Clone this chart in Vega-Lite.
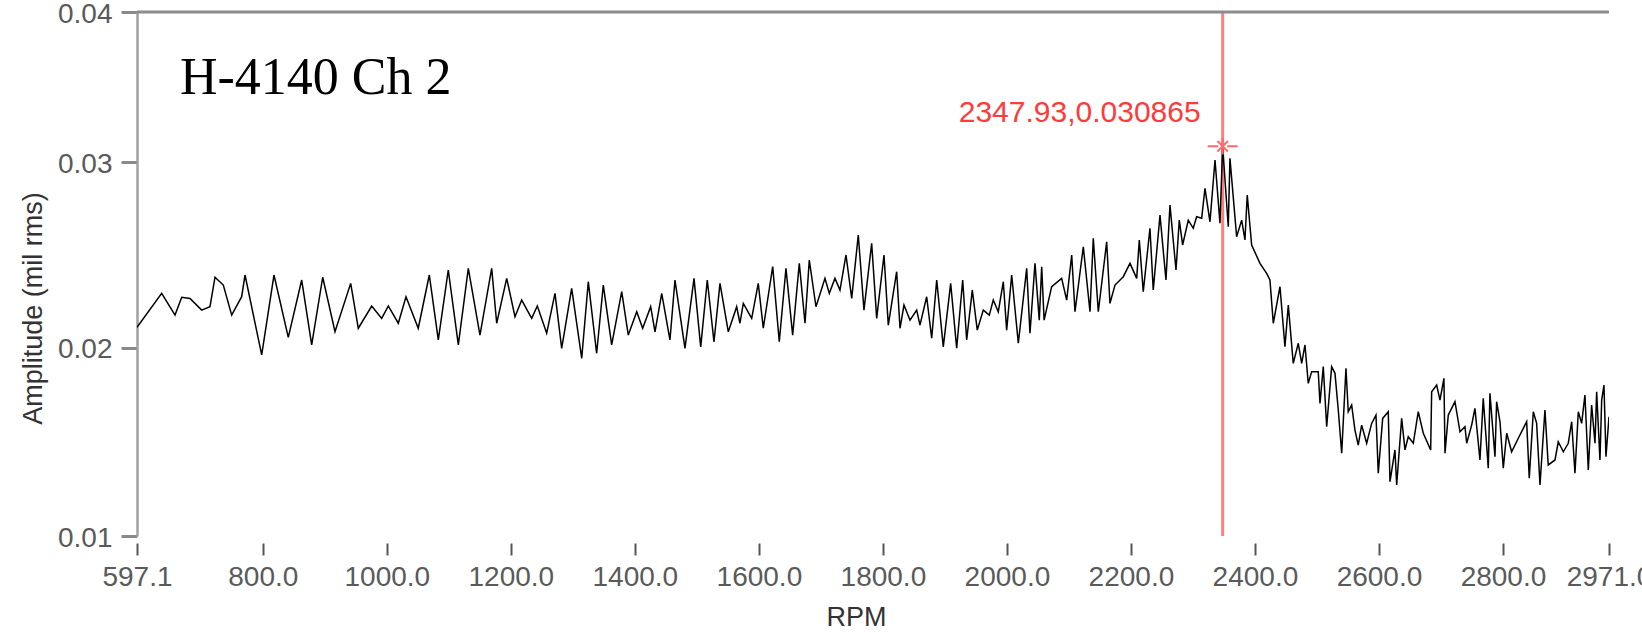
{
  "$schema": "https://vega.github.io/schema/vega-lite/v6.json",
  "width": 1472,
  "height": 524,
  "autosize": {"type": "none"},
  "padding": {"left": 137, "top": 12, "right": 33, "bottom": 99},
  "background": "white",
  "config": {"view": {"stroke": null}, "font": "Liberation Sans"},
  "datasets": {
    "sweep": [
      {"rpm": 597.1, "amp": 0.0211}, {"rpm": 636.9, "amp": 0.02293}, {"rpm": 658.4, "amp": 0.02176}, {"rpm": 669.2, "amp": 0.02272},
      {"rpm": 682.6, "amp": 0.02266}, {"rpm": 701.4, "amp": 0.02203}, {"rpm": 714.8, "amp": 0.02221}, {"rpm": 722.9, "amp": 0.0238},
      {"rpm": 736.3, "amp": 0.02338}, {"rpm": 749.8, "amp": 0.02176}, {"rpm": 765.9, "amp": 0.02275}, {"rpm": 771.3, "amp": 0.02392},
      {"rpm": 798.2, "amp": 0.01961}, {"rpm": 818.0, "amp": 0.02392}, {"rpm": 841.1, "amp": 0.02056}, {"rpm": 862.7, "amp": 0.02365},
      {"rpm": 878.8, "amp": 0.02015}, {"rpm": 896.6, "amp": 0.0238}, {"rpm": 916.4, "amp": 0.02086}, {"rpm": 941.7, "amp": 0.02347},
      {"rpm": 954.0, "amp": 0.02105}, {"rpm": 975.6, "amp": 0.02225}, {"rpm": 991.7, "amp": 0.02158}, {"rpm": 1002.4, "amp": 0.02225},
      {"rpm": 1018.5, "amp": 0.02132}, {"rpm": 1030.9, "amp": 0.02275}, {"rpm": 1050.7, "amp": 0.02105}, {"rpm": 1068.5, "amp": 0.02392},
      {"rpm": 1083.0, "amp": 0.02042}, {"rpm": 1099.1, "amp": 0.02419}, {"rpm": 1115.3, "amp": 0.02015}, {"rpm": 1131.4, "amp": 0.02428},
      {"rpm": 1150.2, "amp": 0.02068}, {"rpm": 1169.1, "amp": 0.02428}, {"rpm": 1177.2, "amp": 0.02132}, {"rpm": 1193.3, "amp": 0.02374},
      {"rpm": 1206.7, "amp": 0.02167}, {"rpm": 1217.5, "amp": 0.02257}, {"rpm": 1233.6, "amp": 0.02158}, {"rpm": 1242.7, "amp": 0.02225},
      {"rpm": 1257.8, "amp": 0.02078}, {"rpm": 1271.2, "amp": 0.02293}, {"rpm": 1282.0, "amp": 0.01997}, {"rpm": 1298.1, "amp": 0.0232},
      {"rpm": 1314.3, "amp": 0.01943}, {"rpm": 1324.9, "amp": 0.02356}, {"rpm": 1338.4, "amp": 0.0197}, {"rpm": 1349.1, "amp": 0.02338},
      {"rpm": 1362.6, "amp": 0.02015}, {"rpm": 1378.8, "amp": 0.02302}, {"rpm": 1389.4, "amp": 0.02068}, {"rpm": 1403.0, "amp": 0.02194},
      {"rpm": 1412.6, "amp": 0.02105}, {"rpm": 1425.5, "amp": 0.02221}, {"rpm": 1432.5, "amp": 0.02086}, {"rpm": 1443.3, "amp": 0.02293},
      {"rpm": 1456.6, "amp": 0.02042}, {"rpm": 1464.7, "amp": 0.02365}, {"rpm": 1480.8, "amp": 0.01997}, {"rpm": 1495.4, "amp": 0.02374},
      {"rpm": 1506.2, "amp": 0.02005}, {"rpm": 1516.8, "amp": 0.02365}, {"rpm": 1527.6, "amp": 0.02032}, {"rpm": 1537.3, "amp": 0.02347},
      {"rpm": 1550.7, "amp": 0.02086}, {"rpm": 1564.2, "amp": 0.02221}, {"rpm": 1569.5, "amp": 0.02132}, {"rpm": 1574.9, "amp": 0.02239},
      {"rpm": 1588.4, "amp": 0.02158}, {"rpm": 1599.0, "amp": 0.02347}, {"rpm": 1607.1, "amp": 0.02105}, {"rpm": 1622.3, "amp": 0.02437},
      {"rpm": 1632.9, "amp": 0.02032}, {"rpm": 1643.7, "amp": 0.02428}, {"rpm": 1654.5, "amp": 0.02068}, {"rpm": 1665.2, "amp": 0.02455},
      {"rpm": 1674.4, "amp": 0.02132}, {"rpm": 1681.3, "amp": 0.02473}, {"rpm": 1692.1, "amp": 0.02221}, {"rpm": 1706.6, "amp": 0.02374},
      {"rpm": 1713.6, "amp": 0.02293}, {"rpm": 1722.7, "amp": 0.02374}, {"rpm": 1730.8, "amp": 0.02311}, {"rpm": 1740.5, "amp": 0.025},
      {"rpm": 1749.7, "amp": 0.02266}, {"rpm": 1760.3, "amp": 0.02608}, {"rpm": 1769.5, "amp": 0.02203}, {"rpm": 1781.9, "amp": 0.02563},
      {"rpm": 1790.0, "amp": 0.02158}, {"rpm": 1801.8, "amp": 0.025}, {"rpm": 1808.7, "amp": 0.02122}, {"rpm": 1822.2, "amp": 0.0241},
      {"rpm": 1827.6, "amp": 0.02105}, {"rpm": 1834.0, "amp": 0.0223}, {"rpm": 1843.7, "amp": 0.02149}, {"rpm": 1854.5, "amp": 0.02203},
      {"rpm": 1859.8, "amp": 0.02122}, {"rpm": 1870.6, "amp": 0.02275}, {"rpm": 1878.7, "amp": 0.02051}, {"rpm": 1886.8, "amp": 0.02365},
      {"rpm": 1897.4, "amp": 0.02005}, {"rpm": 1909.3, "amp": 0.02347}, {"rpm": 1919.0, "amp": 0.01997}, {"rpm": 1928.7, "amp": 0.02365},
      {"rpm": 1935.1, "amp": 0.02042}, {"rpm": 1944.2, "amp": 0.02311}, {"rpm": 1952.2, "amp": 0.02095}, {"rpm": 1961.9, "amp": 0.02203},
      {"rpm": 1971.6, "amp": 0.02176}, {"rpm": 1978.0, "amp": 0.02257}, {"rpm": 1986.1, "amp": 0.02194}, {"rpm": 1994.2, "amp": 0.02356},
      {"rpm": 1999.6, "amp": 0.02095}, {"rpm": 2007.7, "amp": 0.02392}, {"rpm": 2018.4, "amp": 0.02024}, {"rpm": 2031.9, "amp": 0.02428},
      {"rpm": 2037.2, "amp": 0.02078}, {"rpm": 2045.3, "amp": 0.02455}, {"rpm": 2052.2, "amp": 0.02149}, {"rpm": 2056.1, "amp": 0.02437},
      {"rpm": 2060.0, "amp": 0.02149}, {"rpm": 2072.2, "amp": 0.02329}, {"rpm": 2088.3, "amp": 0.02374}, {"rpm": 2096.4, "amp": 0.02257},
      {"rpm": 2104.5, "amp": 0.025}, {"rpm": 2109.8, "amp": 0.02194}, {"rpm": 2123.2, "amp": 0.02544}, {"rpm": 2134.0, "amp": 0.02194},
      {"rpm": 2139.3, "amp": 0.0259}, {"rpm": 2147.4, "amp": 0.02194}, {"rpm": 2160.9, "amp": 0.02571}, {"rpm": 2166.2, "amp": 0.02239},
      {"rpm": 2174.3, "amp": 0.02338}, {"rpm": 2187.7, "amp": 0.02383}, {"rpm": 2198.5, "amp": 0.02455}, {"rpm": 2209.3, "amp": 0.02374},
      {"rpm": 2213.5, "amp": 0.02581}, {"rpm": 2219.9, "amp": 0.02302}, {"rpm": 2230.7, "amp": 0.02644}, {"rpm": 2236.0, "amp": 0.02311},
      {"rpm": 2246.9, "amp": 0.02715}, {"rpm": 2256.5, "amp": 0.02365}, {"rpm": 2263.0, "amp": 0.02769}, {"rpm": 2272.7, "amp": 0.02419},
      {"rpm": 2278.0, "amp": 0.02688}, {"rpm": 2283.4, "amp": 0.02554}, {"rpm": 2292.5, "amp": 0.02688}, {"rpm": 2300.5, "amp": 0.02644},
      {"rpm": 2306.0, "amp": 0.02706}, {"rpm": 2314.1, "amp": 0.02698}, {"rpm": 2319.4, "amp": 0.02859}, {"rpm": 2327.5, "amp": 0.02679},
      {"rpm": 2335.6, "amp": 0.03012}, {"rpm": 2343.6, "amp": 0.02671}, {"rpm": 2347.93, "amp": 0.030865}, {"rpm": 2357.0, "amp": 0.02652},
      {"rpm": 2359.7, "amp": 0.03021}, {"rpm": 2370.5, "amp": 0.02598}, {"rpm": 2378.6, "amp": 0.02688}, {"rpm": 2383.9, "amp": 0.02581},
      {"rpm": 2387.6, "amp": 0.02823}, {"rpm": 2394.7, "amp": 0.02554}, {"rpm": 2408.1, "amp": 0.02455}, {"rpm": 2418.9, "amp": 0.02401},
      {"rpm": 2424.2, "amp": 0.02365}, {"rpm": 2429.6, "amp": 0.02132}, {"rpm": 2440.4, "amp": 0.02329}, {"rpm": 2448.4, "amp": 0.02005},
      {"rpm": 2453.8, "amp": 0.0223}, {"rpm": 2461.8, "amp": 0.01916}, {"rpm": 2469.9, "amp": 0.02024}, {"rpm": 2475.4, "amp": 0.01916},
      {"rpm": 2480.7, "amp": 0.02015}, {"rpm": 2486.0, "amp": 0.01808}, {"rpm": 2491.5, "amp": 0.01871}, {"rpm": 2502.1, "amp": 0.01871},
      {"rpm": 2504.9, "amp": 0.017}, {"rpm": 2510.2, "amp": 0.01898}, {"rpm": 2515.7, "amp": 0.01574}, {"rpm": 2523.7, "amp": 0.01898},
      {"rpm": 2529.1, "amp": 0.01862}, {"rpm": 2534.4, "amp": 0.01664}, {"rpm": 2539.9, "amp": 0.01431}, {"rpm": 2546.8, "amp": 0.01889},
      {"rpm": 2550.5, "amp": 0.01655}, {"rpm": 2556.0, "amp": 0.01691}, {"rpm": 2561.3, "amp": 0.01556}, {"rpm": 2566.6, "amp": 0.01475},
      {"rpm": 2572.1, "amp": 0.01583}, {"rpm": 2580.2, "amp": 0.01485}, {"rpm": 2588.2, "amp": 0.01592}, {"rpm": 2595.2, "amp": 0.01637},
      {"rpm": 2598.9, "amp": 0.01323}, {"rpm": 2606.0, "amp": 0.01619}, {"rpm": 2615.0, "amp": 0.01655}, {"rpm": 2617.8, "amp": 0.01278},
      {"rpm": 2625.8, "amp": 0.01449}, {"rpm": 2628.6, "amp": 0.0126}, {"rpm": 2636.6, "amp": 0.01619}, {"rpm": 2642.0, "amp": 0.01449},
      {"rpm": 2647.3, "amp": 0.0152}, {"rpm": 2655.4, "amp": 0.01485}, {"rpm": 2663.4, "amp": 0.01655}, {"rpm": 2671.5, "amp": 0.01539},
      {"rpm": 2683.4, "amp": 0.01449}, {"rpm": 2685.0, "amp": 0.01763}, {"rpm": 2693.1, "amp": 0.01799}, {"rpm": 2698.4, "amp": 0.01718},
      {"rpm": 2704.8, "amp": 0.01835}, {"rpm": 2706.5, "amp": 0.01431}, {"rpm": 2711.8, "amp": 0.01637}, {"rpm": 2722.6, "amp": 0.01709},
      {"rpm": 2730.7, "amp": 0.01547}, {"rpm": 2738.7, "amp": 0.01574}, {"rpm": 2741.5, "amp": 0.01485}, {"rpm": 2749.5, "amp": 0.01583},
      {"rpm": 2754.8, "amp": 0.01673}, {"rpm": 2762.9, "amp": 0.01395}, {"rpm": 2768.2, "amp": 0.01727}, {"rpm": 2776.3, "amp": 0.0135},
      {"rpm": 2779.0, "amp": 0.01754}, {"rpm": 2787.1, "amp": 0.01412}, {"rpm": 2789.8, "amp": 0.01709}, {"rpm": 2795.2, "amp": 0.01601},
      {"rpm": 2800.5, "amp": 0.0135}, {"rpm": 2806.0, "amp": 0.01539}, {"rpm": 2814.0, "amp": 0.01439}, {"rpm": 2824.7, "amp": 0.01512},
      {"rpm": 2838.2, "amp": 0.01601}, {"rpm": 2842.4, "amp": 0.01296}, {"rpm": 2848.9, "amp": 0.01655}, {"rpm": 2854.3, "amp": 0.01592},
      {"rpm": 2859.7, "amp": 0.0126}, {"rpm": 2867.7, "amp": 0.01664}, {"rpm": 2873.0, "amp": 0.01368}, {"rpm": 2883.9, "amp": 0.01395},
      {"rpm": 2889.2, "amp": 0.01493}, {"rpm": 2897.3, "amp": 0.01439}, {"rpm": 2905.3, "amp": 0.01485}, {"rpm": 2910.8, "amp": 0.01601},
      {"rpm": 2916.1, "amp": 0.01323}, {"rpm": 2921.5, "amp": 0.01655}, {"rpm": 2926.9, "amp": 0.01592}, {"rpm": 2932.2, "amp": 0.01745},
      {"rpm": 2937.6, "amp": 0.01341}, {"rpm": 2943.0, "amp": 0.01691}, {"rpm": 2948.4, "amp": 0.01485}, {"rpm": 2951.1, "amp": 0.01763},
      {"rpm": 2956.4, "amp": 0.01395}, {"rpm": 2959.2, "amp": 0.01718}, {"rpm": 2962.9, "amp": 0.01799}, {"rpm": 2966.1, "amp": 0.01412},
      {"rpm": 2971.0, "amp": 0.01628}
    ],
    "cursor": [
      {"rpm": 2347.93, "amp": 0.030865, "label": "2347.93,0.030865"}
    ],
    "caption": [
      {"rpm": 666.4, "amp": 0.03368, "name": "H-4140 Ch 2"}
    ]
  },
  "layer": [
    {
      "data": {"name": "cursor"},
      "mark": {"type": "rule", "color": "#ff7f7f", "strokeWidth": 3},
      "encoding": {
        "x": {
          "field": "rpm",
          "type": "quantitative",
          "scale": {"domain": [597.1, 2971.0], "nice": false, "zero": false},
          "axis": {
            "title": "RPM",
            "values": [597.1, 800, 1000, 1200, 1400, 1600, 1800, 2000, 2200, 2400, 2600, 2800, 2971.0],
            "format": ".1f",
            "offset": 7,
            "domain": false,
            "grid": false,
            "ticks": true,
            "tickSize": 12,
            "tickWidth": 2,
            "tickColor": "#555555",
            "labelFont": "Liberation Sans",
            "labelFontSize": 28,
            "labelColor": "#5a5a5a",
            "labelPadding": 8,
            "labelFlush": false,
            "labelOverlap": false,
            "labelBound": false,
            "titleFont": "Liberation Sans",
            "titleFontSize": 27,
            "titleFontWeight": "normal",
            "titleColor": "#333333",
            "titleX": 719,
            "titleY": 74,
            "titleAlign": "center",
            "titleBaseline": "middle"
          }
        }
      }
    },
    {
      "data": {"name": "sweep"},
      "mark": {"type": "line", "color": "#000000", "strokeWidth": 1.5, "clip": true},
      "encoding": {
        "x": {"field": "rpm", "type": "quantitative"},
        "y": {
          "field": "amp",
          "type": "quantitative",
          "scale": {"domain": [0.00985, 0.0381], "nice": false, "zero": false},
          "axis": {
            "title": "Amplitude (mil rms)",
            "values": [0.00985, 0.02, 0.03, 0.0381],
            "format": ".2f",
            "domain": true,
            "domainColor": "#a0a0a0",
            "domainWidth": 2.5,
            "grid": false,
            "tickSize": 16,
            "tickWidth": 3,
            "tickColor": "#8a8a8a",
            "labelFont": "Liberation Sans",
            "labelFontSize": 28,
            "labelColor": "#5a5a5a",
            "labelPadding": 9,
            "labelOffset": 2,
            "labelFlush": false,
            "labelOverlap": false,
            "labelBound": false,
            "titleFont": "Liberation Sans",
            "titleFontSize": 27,
            "titleFontWeight": "normal",
            "titleColor": "#333333",
            "titleAngle": -90,
            "titleX": -104,
            "titleY": 296,
            "titleAlign": "center",
            "titleBaseline": "middle"
          }
        }
      }
    },
    {
      "data": {"name": "cursor"},
      "mark": {"type": "rule", "color": "#8c8c8c", "strokeWidth": 3},
      "encoding": {
        "y": {"datum": 0.0381, "type": "quantitative"}
      }
    },
    {
      "data": {"name": "cursor"},
      "mark": {
        "type": "point",
        "shape": "M-1,0L-0.3,0M0.3,0L1,0M0,-0.55L0,0.55M-0.35,-0.35L0.35,0.35M-0.35,0.35L0.35,-0.35",
        "size": 900,
        "filled": false,
        "stroke": "#ff6a6a",
        "strokeWidth": 2,
        "opacity": 1
      },
      "encoding": {
        "x": {"field": "rpm", "type": "quantitative"},
        "y": {"field": "amp", "type": "quantitative"}
      }
    },
    {
      "data": {"name": "cursor"},
      "mark": {
        "type": "text",
        "font": "Liberation Sans",
        "fontSize": 30,
        "color": "#ff3a3a",
        "align": "right",
        "baseline": "middle",
        "dx": -22,
        "dy": -33
      },
      "encoding": {
        "x": {"field": "rpm", "type": "quantitative"},
        "y": {"field": "amp", "type": "quantitative"},
        "text": {"field": "label", "type": "nominal"}
      }
    },
    {
      "data": {"name": "caption"},
      "mark": {
        "type": "text",
        "font": "Liberation Serif",
        "fontSize": 52,
        "color": "#000000",
        "align": "left",
        "baseline": "alphabetic"
      },
      "encoding": {
        "x": {"field": "rpm", "type": "quantitative"},
        "y": {"field": "amp", "type": "quantitative"},
        "text": {"field": "name", "type": "nominal"}
      }
    }
  ]
}
